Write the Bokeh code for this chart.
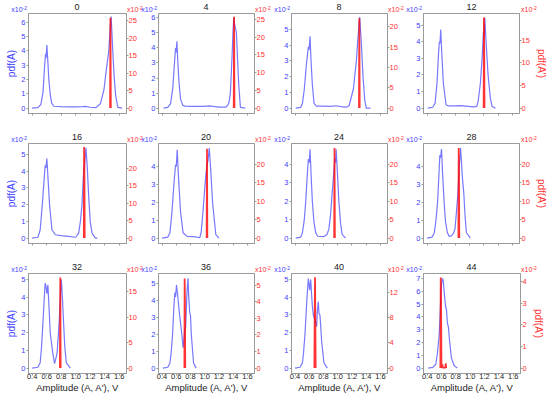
from bokeh.plotting import figure
from bokeh.models import Range1d, LinearAxis, FixedTicker, CustomJSTickFormatter, Div
from bokeh.layouts import column, row
from bokeh.embed import file_html
from bokeh.resources import INLINE

# ---------------- data ----------------
PANELS = ["0", "4", "8", "12", "16", "20", "24", "28", "32", "36", "40", "44"]
X_TICKS = [0.4, 0.6, 0.8, 1.0, 1.2, 1.4, 1.6]
BLUE_TOP = [6.61, 6.29, 6.02, 5.70, 5.66, 5.30, 5.14, 5.30, 5.34, 5.58, 5.34, 7.38]
RED_TOP = [27.0, 26.7, 23.3, 20.9, 27.0, 25.7, 25.7, 25.7, 18.6, 5.7, 15.0, 4.38]
BLUE_TICK_MAX = [6, 6, 5, 5, 5, 4, 4, 4, 5, 5, 5, 7]
RED_TICK_MAX = [25, 25, 20, 15, 20, 20, 20, 20, 15, 5, 12, 4]
RED_STEP = [5, 5, 5, 5, 5, 5, 5, 5, 5, 1, 4, 1]

b0_x = [0.40, 0.48, 0.52, 0.55, 0.57, 0.585, 0.592, 0.603, 0.615, 0.63, 0.65, 0.67, 0.70, 0.80, 0.90, 1.00, 1.10, 1.13, 1.20, 1.28, 1.34, 1.39, 1.42, 1.456, 1.475, 1.488, 1.50, 1.515, 1.53, 1.55, 1.58, 1.64]
b0_y = [0.00, 0.03, 0.25, 1.1, 2.8, 3.8, 3.5, 4.4, 3.4, 2.0, 0.9, 0.35, 0.13, 0.10, 0.09, 0.08, 0.11, 0.12, 0.06, 0.04, 0.3, 1.3, 2.6, 4.0, 5.6, 6.4, 5.2, 3.6, 2.2, 0.9, 0.05, 0.0]
b4_x = [0.42, 0.48, 0.52, 0.55, 0.575, 0.59, 0.597, 0.609, 0.62, 0.64, 0.66, 0.69, 0.72, 0.80, 0.90, 1.00, 1.06, 1.12, 1.20, 1.30, 1.338, 1.361, 1.385, 1.397, 1.408, 1.42, 1.446, 1.462, 1.479, 1.502, 1.57]
b4_y = [0.00, 0.05, 0.3, 1.3, 3.0, 4.0, 3.7, 4.45, 3.2, 1.6, 0.6, 0.2, 0.13, 0.12, 0.11, 0.12, 0.15, 0.11, 0.07, 0.06, 0.3, 1.0, 3.5, 5.0, 6.0, 5.6, 5.0, 3.2, 1.5, 0.05, 0.0]
b8_x = [0.41, 0.48, 0.504, 0.53, 0.56, 0.587, 0.597, 0.611, 0.625, 0.643, 0.667, 0.70, 0.80, 0.90, 0.97, 1.05, 1.12, 1.16, 1.179, 1.22, 1.262, 1.285, 1.309, 1.33, 1.356, 1.38, 1.402, 1.46]
b8_y = [0.0, 0.05, 0.3, 1.2, 2.8, 3.9, 3.7, 4.57, 3.0, 1.5, 0.3, 0.13, 0.12, 0.11, 0.15, 0.09, 0.06, 0.15, 0.5, 1.2, 3.0, 4.5, 5.8, 4.3, 2.0, 0.5, 0.0, 0.0]
b12_x = [0.41, 0.48, 0.513, 0.54, 0.56, 0.573, 0.582, 0.592, 0.605, 0.629, 0.667, 0.70, 0.80, 0.86, 0.95, 1.05, 1.10, 1.118, 1.15, 1.174, 1.193, 1.20, 1.211, 1.23, 1.258, 1.29, 1.314, 1.36]
b12_y = [0.0, 0.05, 0.3, 1.5, 3.2, 4.0, 3.9, 4.74, 3.5, 1.5, 0.2, 0.13, 0.13, 0.15, 0.12, 0.08, 0.1, 0.4, 1.5, 3.0, 4.6, 4.3, 5.46, 4.0, 2.0, 0.6, 0.1, 0.0]
b16_x = [0.40, 0.48, 0.511, 0.54, 0.565, 0.58, 0.59, 0.603, 0.62, 0.64, 0.673, 0.719, 0.80, 0.90, 1.00, 1.041, 1.065, 1.087, 1.10, 1.11, 1.125, 1.142, 1.16, 1.179, 1.20, 1.225, 1.271, 1.30]
b16_y = [0.0, 0.05, 0.5, 2.0, 3.5, 4.36, 4.2, 4.76, 3.5, 2.0, 0.5, 0.2, 0.15, 0.10, 0.05, 0.3, 1.0, 2.0, 3.2, 4.0, 4.6, 5.4, 4.2, 2.5, 1.0, 0.3, 0.0, 0.0]
b20_x = [0.40, 0.48, 0.511, 0.54, 0.57, 0.59, 0.60, 0.613, 0.63, 0.659, 0.696, 0.75, 0.85, 0.93, 0.949, 0.97, 0.995, 1.015, 1.032, 1.045, 1.064, 1.085, 1.11, 1.156, 1.20]
b20_y = [0.0, 0.05, 0.3, 1.5, 3.2, 4.1, 4.0, 4.95, 3.5, 1.5, 0.3, 0.1, 0.08, 0.02, 0.3, 1.2, 2.5, 3.5, 4.1, 4.3, 5.05, 3.8, 2.0, 0.2, 0.0]
b24_x = [0.41, 0.48, 0.504, 0.53, 0.55, 0.57, 0.587, 0.60, 0.611, 0.625, 0.643, 0.665, 0.69, 0.72, 0.80, 0.85, 0.876, 0.90, 0.923, 0.945, 0.96, 0.97, 0.978, 0.995, 1.016, 1.04, 1.062, 1.109]
b24_y = [0.0, 0.05, 0.3, 1.0, 2.0, 3.3, 4.3, 4.1, 4.83, 3.5, 2.0, 0.9, 0.3, 0.1, 0.08, 0.2, 0.5, 1.3, 2.5, 3.6, 4.3, 4.1, 4.83, 3.6, 2.0, 0.8, 0.2, 0.0]
b28_x = [0.40, 0.47, 0.502, 0.525, 0.548, 0.565, 0.58, 0.59, 0.603, 0.62, 0.64, 0.66, 0.686, 0.71, 0.74, 0.77, 0.792, 0.81, 0.834, 0.855, 0.865, 0.871, 0.88, 0.895, 0.917, 0.935, 0.954, 1.009]
b28_y = [0.0, 0.05, 0.3, 1.0, 2.0, 3.4, 4.65, 4.5, 4.99, 3.5, 2.0, 0.9, 0.3, 0.1, 0.12, 0.25, 0.5, 1.3, 2.5, 4.2, 4.6, 5.06, 4.5, 3.5, 2.5, 1.2, 0.3, 0.0]
b32_x = [0.40, 0.48, 0.511, 0.53, 0.548, 0.565, 0.58, 0.592, 0.603, 0.617, 0.632, 0.649, 0.686, 0.709, 0.742, 0.76, 0.778, 0.792, 0.802, 0.818, 0.834, 0.85, 0.871, 0.926]
b32_y = [0.0, 0.05, 0.3, 1.2, 2.5, 3.8, 4.8, 4.6, 4.2, 4.7, 3.5, 2.0, 0.8, 0.25, 0.8, 1.8, 3.0, 4.3, 5.0, 3.9, 2.5, 1.2, 0.3, 0.0]
b36_x = [0.41, 0.48, 0.511, 0.53, 0.548, 0.565, 0.58, 0.59, 0.603, 0.62, 0.64, 0.673, 0.696, 0.705, 0.719, 0.732, 0.742, 0.751, 0.765, 0.775, 0.788, 0.80, 0.811, 0.843, 0.88]
b36_y = [0.0, 0.05, 0.3, 1.0, 2.0, 3.5, 4.45, 4.2, 4.9, 4.3, 3.4, 2.2, 1.2, 1.5, 2.3, 2.4, 3.5, 4.5, 5.3, 4.2, 3.3, 3.1, 2.0, 0.3, 0.0]
b40_x = [0.40, 0.47, 0.504, 0.52, 0.541, 0.565, 0.587, 0.597, 0.606, 0.62, 0.632, 0.643, 0.657, 0.681, 0.704, 0.713, 0.727, 0.736, 0.75, 0.762, 0.774, 0.806, 0.853]
b40_y = [0.0, 0.05, 0.3, 0.9, 2.0, 3.8, 5.05, 4.7, 4.4, 5.0, 4.2, 3.5, 3.0, 2.7, 2.35, 3.2, 3.75, 3.1, 3.0, 2.3, 1.5, 0.3, 0.0]
b44_x = [0.415, 0.48, 0.521, 0.545, 0.567, 0.58, 0.59, 0.60, 0.614, 0.625, 0.637, 0.65, 0.66, 0.669, 0.683, 0.697, 0.715, 0.738, 0.775, 0.822]
b44_y = [0.0, 0.05, 0.3, 1.2, 2.5, 4.0, 5.5, 6.5, 7.0, 6.8, 6.0, 5.2, 4.7, 4.6, 3.5, 3.2, 2.0, 0.8, 0.2, 0.0]

r0_x = [1.474, 1.479, 1.484]
r0_y = [0.0, 25.8, 0.0]
r4_x = [1.408, 1.413, 1.418]
r4_y = [0.0, 25.8, 0.0]
r8_x = [1.299, 1.304, 1.309]
r8_y = [0.0, 22.1, 0.0]
r12_x = [1.196, 1.200, 1.204, 1.208]
r12_y = [0.0, 20.0, 12.0, 0.0]
r16_x = [1.112, 1.116, 1.120, 1.124]
r16_y = [0.0, 26.0, 22.0, 0.0]
r20_x = [1.027, 1.032, 1.037]
r20_y = [0.0, 24.3, 0.0]
r24_x = [0.950, 0.955, 0.960]
r24_y = [0.0, 24.5, 0.0]
r28_x = [0.841, 0.845, 0.849, 0.853]
r28_y = [0.0, 24.5, 20.0, 0.0]
r32_x = [0.783, 0.788, 0.793]
r32_y = [0.0, 17.8, 0.0]
r36_x = [0.714, 0.718, 0.722, 0.726]
r36_y = [0.0, 5.4, 4.0, 0.0]
r40_x = [0.672, 0.677, 0.681, 0.685, 0.690]
r40_y = [0.0, 10.0, 14.4, 8.0, 0.0]
r44_x = [0.585, 0.590, 0.595, 0.600, 0.610, 0.614, 0.618, 0.655, 0.660, 0.665]
r44_y = [0.0, 4.2, 3.0, 0.03, 0.03, 0.18, 0.02, 0.02, 0.22, 0.0]

BLUE_X = [b0_x, b4_x, b8_x, b12_x, b16_x, b20_x, b24_x, b28_x, b32_x, b36_x, b40_x, b44_x]
BLUE_Y = [b0_y, b4_y, b8_y, b12_y, b16_y, b20_y, b24_y, b28_y, b32_y, b36_y, b40_y, b44_y]
RED_X = [r0_x, r4_x, r8_x, r12_x, r16_x, r20_x, r24_x, r28_x, r32_x, r36_x, r40_x, r44_x]
RED_Y = [r0_y, r4_y, r8_y, r12_y, r16_y, r20_y, r24_y, r28_y, r32_y, r36_y, r40_y, r44_y]

# ---------------- style / layout ----------------
X_START, X_END = 0.35, 1.70
PAD = 0.057
FONT = "Liberation Sans"
GRAY = "#9a9a9a"
BLUE_TXT = "#3c3cff"
RED_TXT = "#ff3030"
BLUE_LINE = "#3030ff"
RED_LINE = "#ff0000"
TICK_FS = "7.5px"

COL_BORDERS = [(28, 16), (16, 18), (19, 18), (18, 29)]
COL_FRAMES = [98, 96, 96, 97]
ROW_BOTTOMS = [17, 17, 24]
FRAME_H = 100
STRIP_H = 12
TOTAL_W = sum(bl + fw + br for (bl, br), fw in zip(COL_BORDERS, COL_FRAMES))


def style_axis(ax, color, standoff):
    ax.axis_line_color = GRAY
    ax.major_tick_line_color = GRAY
    ax.minor_tick_line_color = None
    ax.major_tick_out = 2
    ax.major_tick_in = 0
    ax.major_label_standoff = standoff
    ax.major_label_text_font = FONT
    ax.major_label_text_font_size = TICK_FS
    ax.major_label_text_color = color
    ax.axis_label_text_font = FONT
    ax.axis_label_text_font_style = "normal"
    ax.axis_label_standoff = 0


def make_panel(i):
    r, c = divmod(i, 4)
    bl, br = COL_BORDERS[c]
    bb = ROW_BOTTOMS[r]
    fw = COL_FRAMES[c]
    btop, rtop = BLUE_TOP[i], RED_TOP[i]
    p = figure(width=bl + fw + br, height=1 + FRAME_H + bb,
               x_range=Range1d(X_START, X_END),
               y_range=Range1d(-PAD * btop, btop),
               output_backend="svg", toolbar_location=None,
               min_border_left=bl, min_border_right=br,
               min_border_top=1, min_border_bottom=bb)
    p.background_fill_color = "white"
    p.border_fill_color = "white"
    p.outline_line_color = GRAY
    p.xgrid.visible = False
    p.ygrid.visible = False
    p.extra_y_ranges = {"red": Range1d(-PAD * rtop, rtop)}

    xa = p.xaxis[0]
    style_axis(xa, "#222222", -2)
    xa.ticker = FixedTicker(ticks=X_TICKS)
    if r == 2:
        xa.formatter = CustomJSTickFormatter(code="return tick.toFixed(1)")
        xa.axis_label = "Amplitude (A, A'), V"
        xa.axis_label_text_font_size = "9.5px"
        xa.axis_label_text_color = "#222222"
    else:
        xa.formatter = CustomJSTickFormatter(code="return ''")

    ya = p.yaxis[0]
    style_axis(ya, BLUE_TXT, 1)
    ya.ticker = FixedTicker(ticks=list(range(0, BLUE_TICK_MAX[i] + 1)))
    if c == 0:
        ya.axis_label = "pdf(A)"
        ya.axis_label_text_font_size = "10px"
        ya.axis_label_text_color = BLUE_TXT
        ya.axis_label_standoff = 1

    step = RED_STEP[i]
    ra = LinearAxis(y_range_name="red")
    style_axis(ra, RED_TXT, 0)
    ra.ticker = FixedTicker(ticks=list(range(0, RED_TICK_MAX[i] + 1, step)))
    if c == 3:
        ra.axis_label = "pdf(A')"
        ra.axis_label_text_font_size = "10px"
        ra.axis_label_text_color = RED_TXT
        ra.axis_label_standoff = 3
    p.add_layout(ra, "right")

    p.line(BLUE_X[i], BLUE_Y[i], line_color=BLUE_LINE, line_width=1.2, line_alpha=0.65)
    p.line(RED_X[i], RED_Y[i], y_range_name="red", line_color=RED_LINE,
           line_width=1.8, line_alpha=0.8)
    return p


def mult_html(color, pos):
    return (f'<span style="position:absolute;{pos};top:6px;font-size:7px;color:{color}">'
            f'x10<span style="position:relative;top:-2.5px;font-size:5px">-2</span></span>')


def strip(r):
    parts = []
    x0 = 0
    for c in range(4):
        bl, br = COL_BORDERS[c]
        fw = COL_FRAMES[c]
        left = x0 + bl
        right = left + fw
        x0 = right + br
        i = r * 4 + c
        parts.append(f'<span style="position:absolute;left:{left}px;width:{fw}px;top:2.5px;'
                     f'text-align:center;font-size:9px;color:#222222">{PANELS[i]}</span>')
        parts.append(mult_html(BLUE_TXT, f"right:{TOTAL_W - left + 1}px"))
        parts.append(mult_html(RED_TXT, f"left:{right + 1}px"))
    html = (f'<div style="position:relative;width:{TOTAL_W}px;height:{STRIP_H}px;'
            f"font-family:'{FONT}';line-height:1;white-space:nowrap\">" + "".join(parts) + "</div>")
    return Div(text=html, width=TOTAL_W, height=STRIP_H, margin=0)


figs = [make_panel(i) for i in range(12)]
layout = column(strip(0), row(*figs[0:4]),
                strip(1), row(*figs[4:8]),
                strip(2), row(*figs[8:12]))
open("out.html", "w").write(file_html(layout, INLINE))
